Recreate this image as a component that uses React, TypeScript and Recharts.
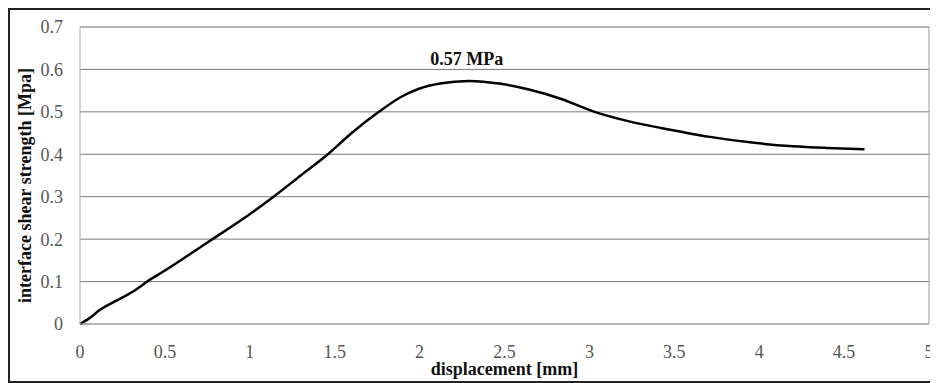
import {
  LineChart,
  Line,
  XAxis,
  YAxis,
  CartesianGrid,
  ReferenceLine,
  ReferenceDot,
} from "recharts";

const displacement = [
  0, 0.05, 0.12, 0.2, 0.31, 0.41, 0.5, 0.6, 0.78, 0.95, 1.14, 1.3, 1.46, 1.6,
  1.76, 1.89, 2.0, 2.12, 2.29, 2.48, 2.65, 2.83, 3.03, 3.24, 3.42, 3.54, 3.71,
  3.97, 4.2, 4.4, 4.62,
];
const strength = [
  0, 0.012, 0.034, 0.052, 0.076, 0.104, 0.126, 0.152, 0.2, 0.245, 0.3, 0.35,
  0.4, 0.45, 0.5, 0.535, 0.555, 0.567, 0.573, 0.566, 0.552, 0.531, 0.5, 0.477,
  0.462, 0.453, 0.441, 0.427, 0.419, 0.415, 0.412,
];
const xTicks = [0, 0.5, 1, 1.5, 2, 2.5, 3, 3.5, 4, 4.5, 5];
const yTicks = [0, 0.1, 0.2, 0.3, 0.4, 0.5, 0.6, 0.7];
const peakX = 2.29;
const peakY = 0.573;
const peakLabel = "0.57 MPa";

const data = displacement.map((d, i) => ({ d, v: strength[i] }));

const FONT = "Liberation Serif, Times New Roman, serif";

const XTick = ({ x, y, payload }: any) => (
  <text
    x={x}
    y={y}
    dy="0.71em"
    textAnchor="middle"
    fontFamily={FONT}
    fontSize={18}
    fill="#555"
  >
    {payload.value}
  </text>
);

const YTick = ({ x, y, payload }: any) => (
  <text
    x={x}
    y={y}
    dy="0.355em"
    textAnchor="end"
    fontFamily={FONT}
    fontSize={18}
    fill="#555"
  >
    {payload.value}
  </text>
);

const YLabel = ({ viewBox }: any) => {
  const x = viewBox.x + 15;
  const y = viewBox.y + viewBox.height / 2 + 10;
  return (
    <text
      x={x}
      y={y}
      transform={`rotate(-90, ${x}, ${y})`}
      textAnchor="middle"
      dominantBaseline="central"
      fontFamily={FONT}
      fontWeight="bold"
      fontSize={18}
      fill="#111"
    >
      interface shear strength [Mpa]
    </text>
  );
};

export default function App() {
  return (
    <div
      style={{
        width: 926,
        height: 371,
        border: "2px solid #222",
        background: "#fff",
        fontFamily: FONT,
      }}
    >
      <LineChart
        width={926}
        height={371}
        data={data}
        margin={{ top: 17, right: 7, left: 0, bottom: 0 }}
        style={{ fontFamily: FONT, overflow: "visible" }}
      >
        <CartesianGrid vertical={false} stroke="#7a7a7a" />
        <XAxis
          dataKey="d"
          type="number"
          domain={[0, 5]}
          ticks={xTicks}
          interval={0}
          height={57}
          tick={<XTick />}
          tickLine={false}
          tickSize={0}
          tickMargin={21}
          axisLine={{ stroke: "#aaa" }}
          label={{
            value: "displacement [mm]",
            position: "insideBottom",
            offset: 6,
            fontFamily: FONT,
            fontWeight: "bold",
            fontSize: 18,
            fill: "#111",
          }}
        />
        <YAxis
          type="number"
          domain={[0, 0.7]}
          ticks={yTicks}
          interval={0}
          width={70}
          tick={<YTick />}
          tickLine={false}
          tickSize={0}
          tickMargin={17}
          axisLine={{ stroke: "#aaa" }}
          label={<YLabel />}
        />
        <ReferenceLine y={0.7} stroke="#aaa" />
        <ReferenceLine x={5} stroke="#999" />
        <Line
          type="monotone"
          dataKey="v"
          stroke="#000"
          strokeWidth={2.5}
          dot={false}
          isAnimationActive={false}
        />
        <ReferenceDot
          x={peakX}
          y={peakY}
          r={0}
          fill="none"
          stroke="none"
          label={{
            value: peakLabel,
            position: "top",
            offset: 16,
            dx: -2,
            fontFamily: FONT,
            fontWeight: "bold",
            fontSize: 18,
            fill: "#111",
          }}
        />
      </LineChart>
    </div>
  );
}
